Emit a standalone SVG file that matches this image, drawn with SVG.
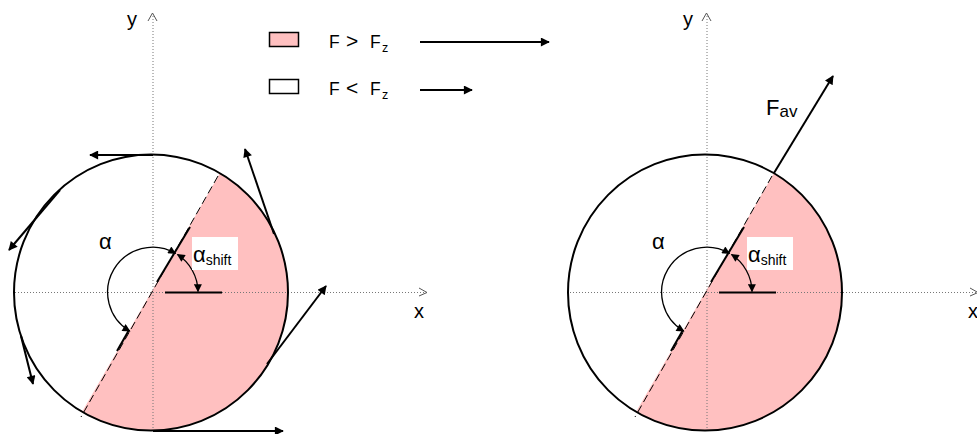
<svg xmlns="http://www.w3.org/2000/svg" width="977" height="434" viewBox="0 0 977 434">
<defs>
<marker id="ah" viewBox="0 0 10 10" refX="9" refY="5" markerWidth="11" markerHeight="9" markerUnits="userSpaceOnUse" orient="auto-start-reverse">
<path d="M0,0 L10,5 L0,10 z" fill="#000"/>
</marker>
<marker id="ahs" viewBox="0 0 10 10" refX="9" refY="5" markerWidth="10" markerHeight="8" markerUnits="userSpaceOnUse" orient="auto-start-reverse">
<path d="M0,0 L10,5 L0,10 z" fill="#000"/>
</marker>
</defs>
<style>
.axis{stroke:#777;stroke-width:1;stroke-dasharray:1 2;fill:none}
.chev{stroke:#555;stroke-width:1;fill:none}
.circ{stroke:#000;stroke-width:2;fill:none}
.pink{fill:#ffc0c0}
.dash{stroke:#000;stroke-width:1;stroke-dasharray:8 4;fill:none}
.sol{stroke:#000;stroke-width:2;fill:none}
.arc{stroke:#000;stroke-width:1.3;fill:none}
.force{stroke:#000;stroke-width:2;fill:none;marker-end:url(#ah)}
.t{font-family:"Liberation Sans",Arial,sans-serif;fill:#000}
</style>
<rect width="977" height="434" fill="#fff"/>

<g id="legend">
<rect x="269.5" y="32.5" width="29" height="14" fill="#ffc0c0" stroke="#000" stroke-width="1.5"/>
<rect x="269.5" y="79.5" width="29" height="14" fill="#fff" stroke="#000" stroke-width="1.5"/>
<text class="t" font-size="17.5" y="48"><tspan x="329">F</tspan><tspan x="346" font-size="21">&gt;</tspan><tspan x="370">F</tspan><tspan x="382" font-size="12.5" dy="4">z</tspan></text>
<text class="t" font-size="17.5" y="95"><tspan x="329">F</tspan><tspan x="346" font-size="21">&lt;</tspan><tspan x="370">F</tspan><tspan x="382" font-size="12.5" dy="4">z</tspan></text>
</g>

<g id="left">
<path class="pink" d="M219.75,173.4 A137.5 137.5 0 0 1 82.25,411.6 Z"/>
<line class="axis" x1="153" y1="16" x2="153" y2="431"/>
<line class="axis" x1="15" y1="292.5" x2="424" y2="292.5"/>
<path class="chev" d="M148,21 L152.5,13 L157,21"/>
<path class="chev" d="M419,288 L427,292.5 L419,296"/>
<text class="t" x="127" y="26" font-size="20">y</text>
<text class="t" x="414" y="318" font-size="20">x</text>
<ellipse class="circ" cx="151" cy="292.5" rx="137" ry="138"/>
<line class="dash" x1="218" y1="176" x2="81" y2="417"/>
<line class="sol" x1="157" y1="282" x2="190" y2="227"/>
<line class="sol" x1="117" y1="351" x2="129" y2="330"/>
<line class="sol" x1="165" y1="292.5" x2="222" y2="292.5"/>
<path class="arc" d="M175.5,253.5 A45 45 0 0 0 129.8,331.1" marker-start="url(#ahs)" marker-end="url(#ahs)"/>
<path class="arc" d="M177.5,254.5 A45 45 0 0 1 198,291.5" marker-start="url(#ahs)" marker-end="url(#ahs)"/>
<text class="t" x="99" y="249" font-size="22">α</text>
<rect x="192" y="237" width="46" height="33" fill="#fff"/>
<text class="t" x="193" y="262" font-size="22">α<tspan font-size="14" dy="3">shift</tspan></text>
</g>

<g id="right">
<path class="pink" d="M773.75,173.4 A137.5 137.5 0 0 1 636.25,411.6 Z"/>
<line class="axis" x1="707" y1="16" x2="707" y2="431"/>
<line class="axis" x1="570" y1="292.5" x2="976" y2="292.5"/>
<path class="chev" d="M702,21 L706.5,13 L711,21"/>
<path class="chev" d="M970,288 L978,292.5 L970,296"/>
<text class="t" x="683" y="26" font-size="20">y</text>
<text class="t" x="968" y="318" font-size="20">x</text>
<ellipse class="circ" cx="705" cy="292.5" rx="137" ry="138"/>
<line class="dash" x1="772" y1="176" x2="635" y2="417"/>
<line class="sol" x1="711" y1="282" x2="744" y2="227"/>
<line class="sol" x1="671" y1="351" x2="683" y2="330"/>
<line class="sol" x1="719" y1="292.5" x2="776" y2="292.5"/>
<path class="arc" d="M729.5,253.5 A45 45 0 0 0 683.8,331.1" marker-start="url(#ahs)" marker-end="url(#ahs)"/>
<path class="arc" d="M731.5,254.5 A45 45 0 0 1 752,291.5" marker-start="url(#ahs)" marker-end="url(#ahs)"/>
<text class="t" x="652" y="249" font-size="22">α</text>
<rect x="747" y="237" width="46" height="33" fill="#fff"/>
<text class="t" x="748" y="262" font-size="22">α<tspan font-size="14" dy="3">shift</tspan></text>
<text class="t" x="766" y="115" font-size="22">F<tspan font-size="17" dy="2">av</tspan></text>
</g>

<g id="connectors">
<line class="force" x1="420" y1="42" x2="549" y2="42"/>
<line class="force" x1="420" y1="90" x2="472" y2="90"/>
<line class="force" x1="153" y1="155" x2="90" y2="155"/>
<line class="force" x1="60" y1="190" x2="9" y2="250"/>
<line class="force" x1="21" y1="336" x2="33" y2="384"/>
<line class="force" x1="153" y1="431" x2="283" y2="431"/>
<line class="force" x1="267" y1="364" x2="326" y2="286"/>
<line class="force" x1="274" y1="234" x2="245" y2="149"/>
<line class="force" x1="774" y1="173" x2="833" y2="76" stroke-width="1.5"/>
</g>
</svg>
